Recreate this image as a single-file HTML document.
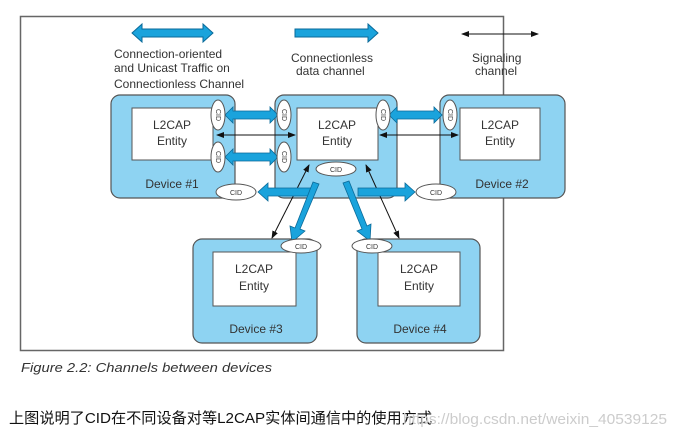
<!DOCTYPE html><html><head><style>body{margin:0;background:#fff;width:677px;height:439px;overflow:hidden;font-family:"Liberation Sans",sans-serif}</style></head><body>
<svg width="677" height="439" xmlns="http://www.w3.org/2000/svg" font-family="Liberation Sans, sans-serif">
<defs>
<marker id="a" markerWidth="8" markerHeight="6" refX="7" refY="3" orient="auto-start-reverse"><path d="M0,0L8,3L0,6z" fill="#111"/></marker>
</defs>
<rect x="20.5" y="16.5" width="483" height="334" fill="#fff" stroke="#666" stroke-width="1.5"/>
<path d="M132,33l10,-9v5h61v-5l10,9l-10,9v-5h-61v5z" fill="#1aa3dc" stroke="#0a6a99"/>
<path d="M295,29h73v-5l10,9l-10,9v-5h-73z" fill="#1aa3dc" stroke="#0a6a99"/>
<line x1="462" y1="34" x2="538" y2="34" stroke="#111" marker-start="url(#a)" marker-end="url(#a)"/>
<g font-size="12" fill="#333">
<text x="114" y="58">Connection-oriented</text><text x="114" y="72">and Unicast Traffic on</text><text x="114" y="88">Connectionless Channel</text>
<text x="291" y="62">Connectionless</text><text x="296" y="75">data channel</text>
<text x="472" y="62">Signaling</text><text x="475" y="75">channel</text>
</g>
<g fill="#8ed3f2" stroke="#555" stroke-width="1.2">
<rect x="111" y="95" width="124" height="103" rx="9"/>
<rect x="275" y="95" width="122" height="103" rx="9"/>
<rect x="440" y="95" width="125" height="103" rx="9"/>
<rect x="193" y="239" width="124" height="104" rx="9"/>
<rect x="357" y="239" width="123" height="104" rx="9"/>
</g>
<g fill="#fff" stroke="#555">
<rect x="132" y="108" width="81" height="52"/><rect x="297" y="108" width="81" height="52"/><rect x="460" y="108" width="80" height="52"/>
<rect x="213" y="252" width="83" height="54"/><rect x="378" y="252" width="82" height="54"/>
</g>
<g font-size="12" fill="#333" text-anchor="middle">
<text x="172" y="129">L2CAP</text><text x="172" y="145">Entity</text>
<text x="337" y="129">L2CAP</text><text x="337" y="145">Entity</text>
<text x="500" y="129">L2CAP</text><text x="500" y="145">Entity</text>
<text x="254" y="273">L2CAP</text><text x="254" y="290">Entity</text>
<text x="419" y="273">L2CAP</text><text x="419" y="290">Entity</text>
<text x="172" y="188">Device #1</text><text x="502" y="188">Device #2</text>
<text x="256" y="333">Device #3</text><text x="420" y="333">Device #4</text>
</g>
<g stroke="#111" fill="none">
<line x1="217" y1="135" x2="295" y2="135" marker-start="url(#a)" marker-end="url(#a)"/>
<line x1="380" y1="135" x2="458" y2="135" marker-start="url(#a)" marker-end="url(#a)"/>
<line x1="272" y1="238" x2="309" y2="165" marker-start="url(#a)" marker-end="url(#a)"/>
<line x1="366" y1="165" x2="399" y2="238" marker-start="url(#a)" marker-end="url(#a)"/>
</g>
<g fill="#1aa3dc" stroke="#0a6a99" stroke-width="0.8">
<path d="M225,115l8,-8v4h37v-4l8,8l-8,8v-4h-37v4z"/>
<path d="M225,157l8,-8v4h37v-4l8,8l-8,8v-4h-37v4z"/>
<path d="M389,115l8,-8v4h37v-4l8,8l-8,8v-4h-37v4z"/>
<path d="M312,188h-44v-5l-10,9l10,9v-5h44z"/>
<path d="M358,188h47v-5l10,9l-10,9v-5h-47z"/>
<path d="M313,182l6,2l-19,45l5,2l-13,11l-2,-16l5,2z"/>
<path d="M343,183l6,-2l18,45l4,-2l-1,17l-13,-10l5,-2z"/>
</g>
<g fill="#fff" stroke="#555">
<ellipse cx="218" cy="115" rx="7" ry="15"/><ellipse cx="218" cy="157" rx="7" ry="15"/>
<ellipse cx="284" cy="115" rx="7" ry="15"/><ellipse cx="284" cy="157" rx="7" ry="15"/>
<ellipse cx="383" cy="115" rx="7" ry="15"/><ellipse cx="450" cy="115" rx="7" ry="15"/>
<ellipse cx="336" cy="169" rx="20" ry="7"/><ellipse cx="236" cy="192" rx="20" ry="8"/><ellipse cx="436" cy="192" rx="20" ry="8"/>
<ellipse cx="301" cy="246" rx="20" ry="7"/><ellipse cx="372" cy="246" rx="20" ry="7"/>
</g>
<g font-size="7" fill="#333" text-anchor="middle">
<text x="336" y="172">CID</text><text x="236" y="195">CID</text><text x="436" y="195">CID</text><text x="301" y="249">CID</text><text x="372" y="249">CID</text>
<text transform="translate(216,115) rotate(90)">CID</text>
<text transform="translate(216,157) rotate(90)">CID</text>
<text transform="translate(282,115) rotate(90)">CID</text>
<text transform="translate(282,157) rotate(90)">CID</text>
<text transform="translate(381,115) rotate(90)">CID</text>
<text transform="translate(448,115) rotate(90)">CID</text>
</g>
<text x="21" y="372" font-size="13" font-style="italic" fill="#333" textLength="251" lengthAdjust="spacingAndGlyphs">Figure 2.2:  Channels between devices</text>
<text x="9" y="423" font-size="15" fill="#111" font-family="Liberation Sans, Noto Sans CJK SC, sans-serif" textLength="423" lengthAdjust="spacingAndGlyphs">上图说明了CID在不同设备对等L2CAP实体间通信中的使用方式</text>
<text x="403" y="424" font-size="15" fill="#ccc" textLength="264" lengthAdjust="spacingAndGlyphs">https://blog.csdn.net/weixin_40539125</text>
</svg>
</body></html>
